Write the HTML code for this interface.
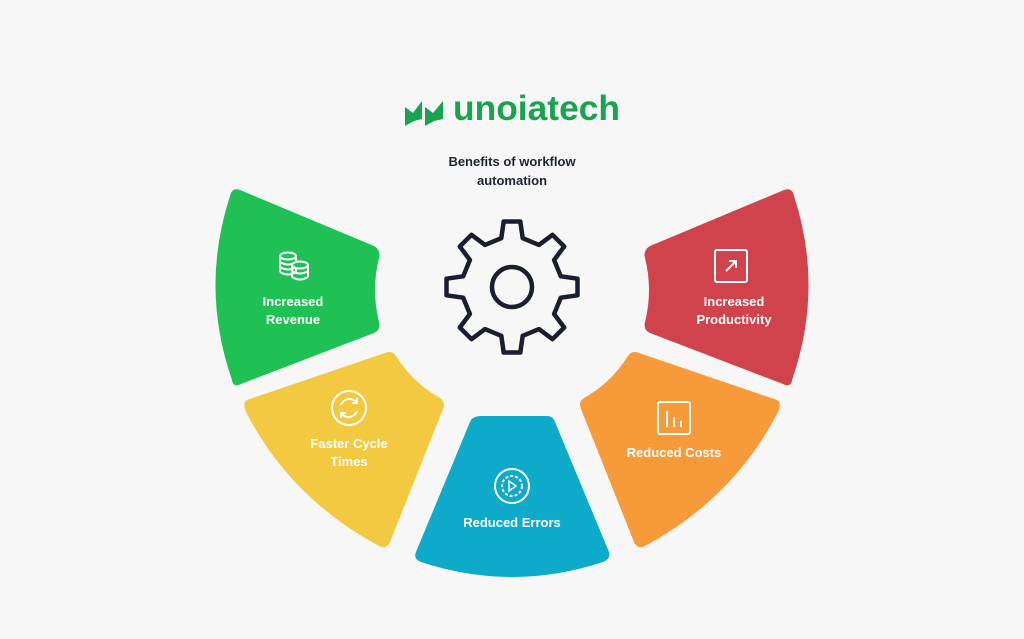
<!DOCTYPE html>
<html><head><meta charset="utf-8"><style>
body{margin:0;background:#f7f7f7;}
svg{display:block}
text{font-family:"Liberation Sans",sans-serif;font-weight:bold}
</style></head><body>
<svg width="1024" height="639" viewBox="0 0 1024 639">
<rect width="1024" height="639" fill="#f7f7f7"/>
<!-- logo -->
<polygon points="405,107 413,113 422,101 422,119 414,121 405,126" fill="#18a34f"/>
<polygon points="425,107 433,113 443,101 443,119 434,121 425,126" fill="#18a34f"/>
<text x="453" y="120" font-size="35" fill="#18a34f" textLength="167" lengthAdjust="spacingAndGlyphs">unoiatech</text>
<text x="512" y="166" font-size="13" fill="#1f2433" text-anchor="middle">Benefits of workflow</text>
<text x="512" y="185" font-size="13" fill="#1f2433" text-anchor="middle">automation</text>

<!-- segments -->
<path d="M240,190 L374,246 Q381,250 379,258 Q371,290 379,322 Q381,330 374,333 L241,384 Q233,388 232,380 Q200,288 230,196 Q232,187 240,190 Z" fill="#1fc054"/>
<path d="M247,400 L385,353 Q392,350 396,356 Q413,383 440,398 Q446,402 443,409 L390,542 Q386,550 379,546 Q290,498 246,412 Q242,403 247,400 Z" fill="#f2c940"/>
<path d="M482,416 L547,416 Q553,416 555,422 L609,552 Q611,559 603,562 Q512,592 421,562 Q413,559 416,552 L470,422 Q472,416 482,416 Z" fill="#0eaac9"/>
<path d="M777,400 L639,353 Q632,350 628,356 Q611,383 584,398 Q578,402 581,409 L634,542 Q638,550 645,546 Q734,498 778,412 Q782,403 777,400 Z" fill="#f79a3a"/>
<path d="M784,190 L650,246 Q643,250 645,258 Q653,290 645,322 Q643,330 650,333 L783,384 Q791,388 792,380 Q824,288 794,196 Q792,187 784,190 Z" fill="#d1434c"/>

<!-- gear -->
<path id="gear" fill="none" stroke="#1a1f2e" stroke-width="4.5" stroke-linejoin="round"/>
<circle cx="512" cy="287" r="20" fill="none" stroke="#1a1f2e" stroke-width="4.5"/>

<!-- labels -->
<g fill="#fff" font-size="13" text-anchor="middle">
<text x="293" y="306">Increased</text><text x="293" y="324">Revenue</text>
<text x="349" y="448">Faster Cycle</text><text x="349" y="466">Times</text>
<text x="512" y="527">Reduced Errors</text>
<text x="674" y="457">Reduced Costs</text>
<text x="734" y="306">Increased</text><text x="734" y="324">Productivity</text>
</g>
<!-- icons -->
<g fill="none" stroke="#fff" stroke-width="2">
<ellipse cx="288" cy="256" rx="8" ry="3.5"/><path d="M280,256v16M296,256v16M280,262q8,5 16,0M280,267q8,5 16,0M280,272q8,5 16,0"/>
<ellipse cx="300" cy="265" rx="8" ry="3.5" fill="#1fc054"/><path d="M292,265v12M308,265v12M292,271q8,5 16,0M292,277q8,5 16,0"/>
<circle cx="349" cy="408" r="17"/><path d="M341,405a9,9 0 0 1 16,-2M357,411a9,9 0 0 1 -16,2M357,398v5h-5M341,418v-5h5"/>
<circle cx="512" cy="486" r="17"/><circle cx="512" cy="486" r="10" stroke-dasharray="3 2"/><path d="M509,481l7,5l-7,5z" stroke-width="1.5"/>
<rect x="658" y="402" width="32" height="32" rx="2"/><path d="M667,411v16M674,417v10M681,421v6"/>
<rect x="715" y="250" width="32" height="32" rx="2"/><path d="M726,271l10,-10M729,261h7v7"/>
</g>
</svg>
<script>
(function(){var cx=512,cy=287,R=66,r=50,n=8,d='';
for(var i=0;i<n;i++){var a=i*2*Math.PI/n-Math.PI/2;var s=Math.PI/n;
var p=[[r,a-s*0.55],[R,a-s*0.32],[R,a+s*0.32],[r,a+s*0.55]];
p.forEach(function(q,j){var x=cx+q[0]*Math.cos(q[1]),y=cy+q[0]*Math.sin(q[1]);d+=(i==0&&j==0?'M':'L')+x.toFixed(1)+','+y.toFixed(1);});}
document.getElementById('gear').setAttribute('d',d+'Z');})();
</script>
</body></html>
